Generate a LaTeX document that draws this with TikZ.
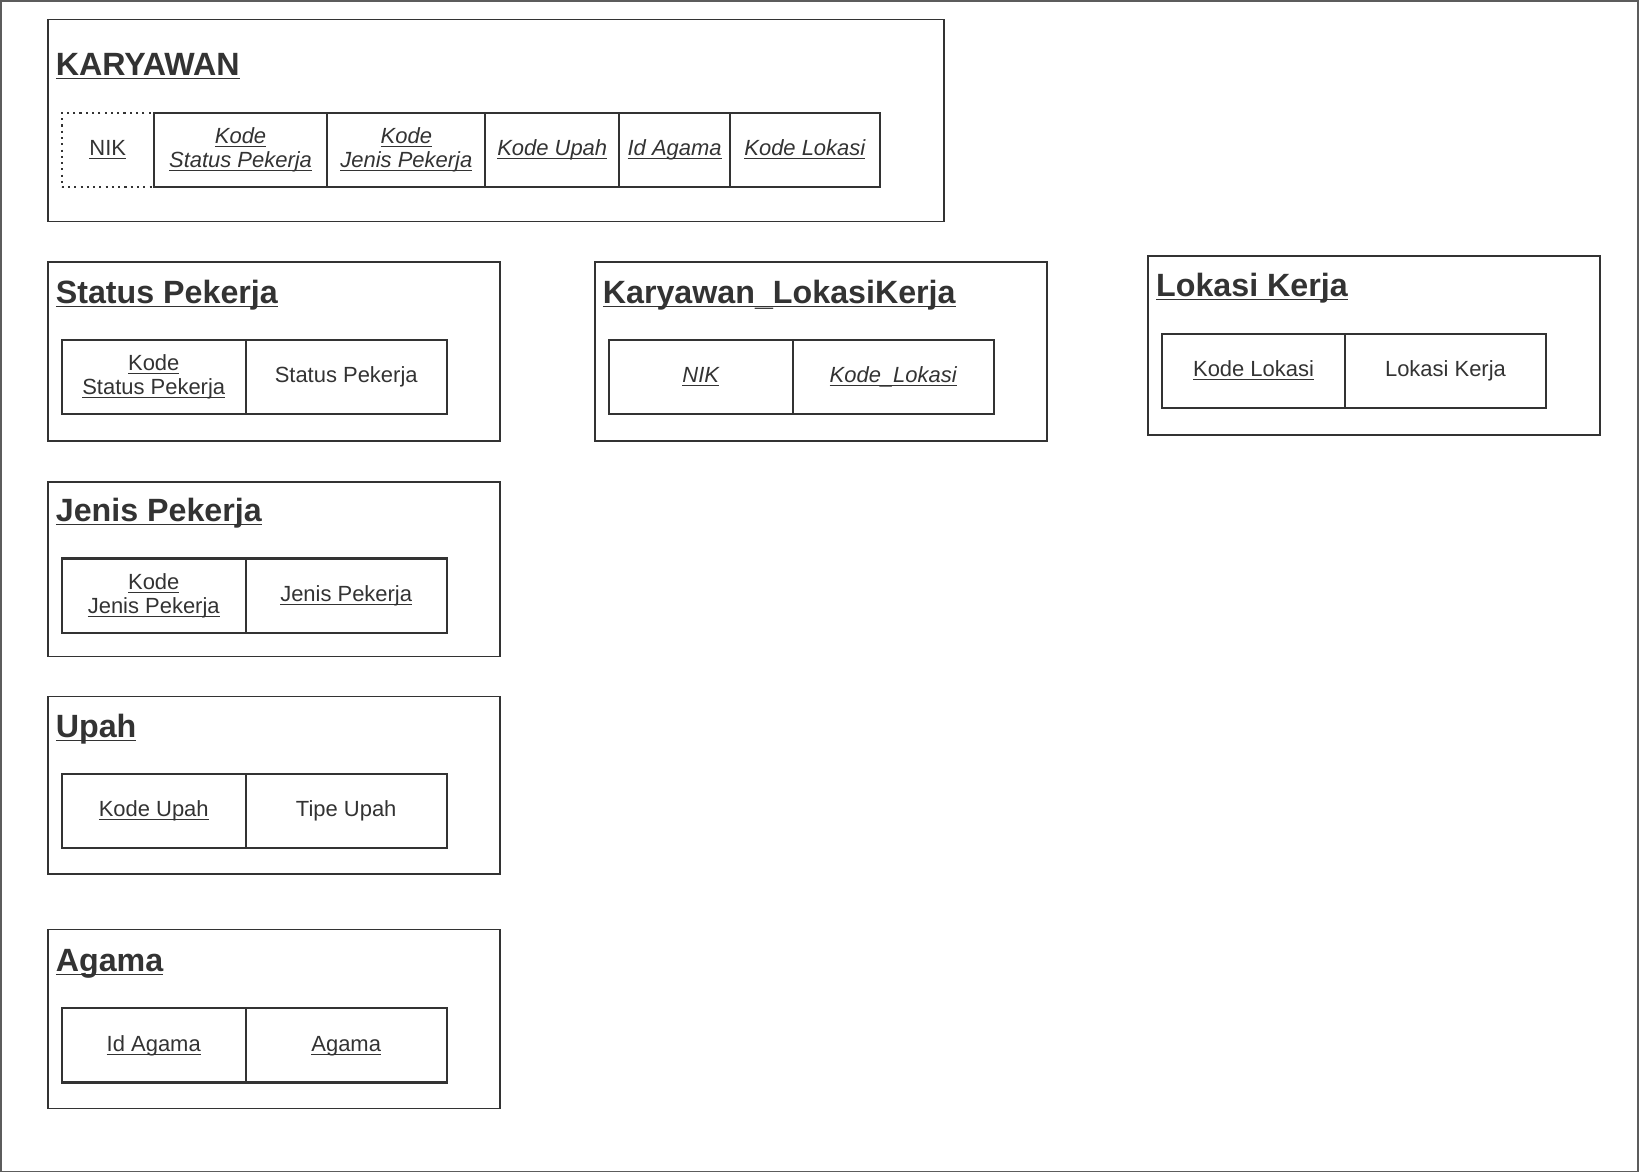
\documentclass[tikz,border=0pt]{standalone}
\usepackage{fontspec}
\setmainfont{Liberation Sans}
\usetikzlibrary{positioning}
\definecolor{ink}{HTML}{333333}
\newcommand{\ulx}[1]{\underline{\smash{#1}}\vphantom{Agj}}
\newcommand{\usc}{\raisebox{-0.9pt}{\_}}

\tikzset{
  tablebox/.style={draw=ink, line width=0.8pt, anchor=north west, inner sep=0pt},
  tabletitle/.style={anchor=west, inner sep=0pt, text=ink, font=\fontsize{15.4}{18}\selectfont\bfseries},
  cell/.style={draw=ink, line width=1pt, outer sep=0pt, inner sep=0pt, anchor=north west,
    minimum height=35.5pt, align=center, text=ink, font=\fontsize{10.5}{11.5}\selectfont},
  keycell/.style={cell, draw=ink, dotted, line width=0.8pt}
}

\begin{document}
\begin{tikzpicture}[x=0.5pt,y=-0.5pt]
  \useasboundingbox (0,0) rectangle (1568,1122);
  \draw[ink!80, line width=0.7pt] (1,1) rectangle (1566,1120);

  % KARYAWAN
  \node[tablebox, minimum width=428.5pt, minimum height=96.5pt] (karyawan) at (45,18) {};
  \node[tabletitle] at (53,64) {\ulx{KARYAWAN}};
  \node[keycell, minimum width=44pt] (k-nik) at (59,108) {\ulx{NIK}};
  \node[cell, minimum width=83pt, right=0pt of k-nik.north east, anchor=north west] (k-status) {\itshape\ulx{Kode}\\\itshape\ulx{Status Pekerja}};
  \node[cell, minimum width=75.5pt, right=0pt of k-status.north east, anchor=north west] (k-jenis) {\itshape\ulx{Kode}\\\itshape\ulx{Jenis Pekerja}};
  \node[cell, minimum width=64pt, right=0pt of k-jenis.north east, anchor=north west] (k-upah) {\itshape\ulx{Kode Upah}};
  \node[cell, minimum width=53pt, right=0pt of k-upah.north east, anchor=north west] (k-agama) {\itshape\ulx{Id Agama}};
  \node[cell, minimum width=71.5pt, right=0pt of k-agama.north east, anchor=north west] (k-lokasi) {\itshape\ulx{Kode Lokasi}};

  % Status Pekerja
  \node[tablebox, minimum width=216pt, minimum height=85.5pt] (status) at (45,250) {};
  \node[tabletitle] at (53,282) {\ulx{Status Pekerja}};
  \node[cell, minimum width=88pt] (s-kode) at (59,325) {\ulx{Kode}\\\ulx{Status Pekerja}};
  \node[cell, minimum width=96pt, right=0pt of s-kode.north east, anchor=north west] (s-nama) {Status Pekerja};

  % Karyawan_LokasiKerja
  \node[tablebox, minimum width=216pt, minimum height=85.5pt] (kl) at (568,250) {};
  \node[tabletitle] at (576,282) {\ulx{Karyawan\usc LokasiKerja}};
  \node[cell, minimum width=88pt] (kl-nik) at (582,325) {\itshape\ulx{NIK}};
  \node[cell, minimum width=96pt, right=0pt of kl-nik.north east, anchor=north west] (kl-lokasi) {\itshape\ulx{Kode\usc Lokasi}};

  % Lokasi Kerja
  \node[tablebox, minimum width=216pt, minimum height=85.5pt] (lokasi) at (1097,244) {};
  \node[tabletitle] at (1105,276) {\ulx{Lokasi Kerja}};
  \node[cell, minimum width=87.5pt] (l-kode) at (1111,319) {\ulx{Kode Lokasi}};
  \node[cell, minimum width=96pt, right=0pt of l-kode.north east, anchor=north west] (l-nama) {Lokasi Kerja};

  % Jenis Pekerja
  \node[tablebox, minimum width=216pt, minimum height=83.5pt] (jenis) at (45,460) {};
  \node[tabletitle] at (53,491) {\ulx{Jenis Pekerja}};
  \node[cell, minimum width=88pt] (j-kode) at (59,534) {\ulx{Kode}\\\ulx{Jenis Pekerja}};
  \node[cell, minimum width=96pt, right=0pt of j-kode.north east, anchor=north west] (j-nama) {\ulx{Jenis Pekerja}};

  % Upah
  \node[tablebox, minimum width=216pt, minimum height=85pt] (upah) at (45,665) {};
  \node[tabletitle] at (53,697) {\ulx{Upah}};
  \node[cell, minimum width=88pt] (u-kode) at (59,740) {\ulx{Kode Upah}};
  \node[cell, minimum width=96pt, right=0pt of u-kode.north east, anchor=north west] (u-tipe) {Tipe Upah};

  % Agama
  \node[tablebox, minimum width=216pt, minimum height=85.5pt] (agama) at (45,888) {};
  \node[tabletitle] at (53,921) {\ulx{Agama}};
  \node[cell, minimum width=88pt] (a-id) at (59,964) {\ulx{Id Agama}};
  \node[cell, minimum width=96pt, right=0pt of a-id.north east, anchor=north west] (a-nama) {\ulx{Agama}};
\end{tikzpicture}
\end{document}
